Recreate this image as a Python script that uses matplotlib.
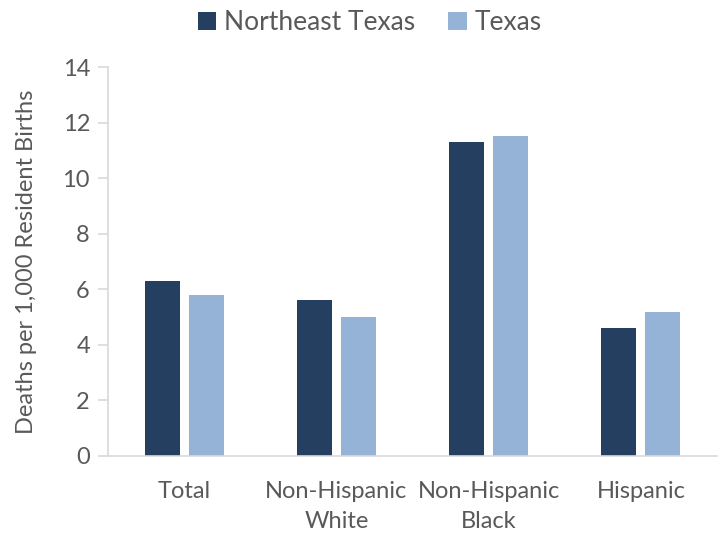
import matplotlib
matplotlib.use("Agg")
import matplotlib.pyplot as plt
import numpy as np

categories = ["Total", "Non-Hispanic\nWhite", "Non-Hispanic\nBlack", "Hispanic"]
series_names = ["Northeast Texas", "Texas"]
northeast_texas = [6.3, 5.6, 11.3, 4.6]
texas = [5.8, 5.0, 11.5, 5.2]
yticks = [0, 2, 4, 6, 8, 10, 12, 14]

colors = ["#243F60", "#95B3D7"]
text_color = "#595959"
axis_color = "#D9D9D9"

plt.rcParams["font.family"] = ["Lato", "DejaVu Sans"]

fig = plt.figure(figsize=(7.18, 5.37), dpi=100)
ax = fig.add_axes([108/718, 1-456/537, (717-108)/718, (456-67)/537])

x = np.arange(len(categories))
w = 0.23
off = 0.145
ax.bar(x - off, northeast_texas, width=w, color=colors[0], label=series_names[0])
ax.bar(x + off, texas, width=w, color=colors[1], label=series_names[1])

ax.set_xlim(-0.5, 3.5)
ax.set_ylim(0, 14)
ax.set_yticks(yticks)
ax.set_xticks(x)
ax.set_xticklabels(categories, fontsize=17, color=text_color, linespacing=1.55)
ax.tick_params(axis="y", labelsize=17, labelcolor=text_color, color=axis_color,
               length=7, width=1.2, pad=6)
ax.tick_params(axis="x", length=0, pad=18)

for s in ["top", "right"]:
    ax.spines[s].set_visible(False)
for s in ["left", "bottom"]:
    ax.spines[s].set_color(axis_color)
    ax.spines[s].set_linewidth(1.2)

ax.set_ylabel("Deaths per 1,000 Resident Births", fontsize=17, color=text_color, labelpad=18)

fig.legend(loc="upper center", bbox_to_anchor=(0.515, 1.025), ncol=2, frameon=False,
           fontsize=19, labelcolor=text_color, handlelength=0.7, handleheight=0.7,
           handletextpad=0.3, columnspacing=1.25)

fig.savefig("out.png", dpi=100)
